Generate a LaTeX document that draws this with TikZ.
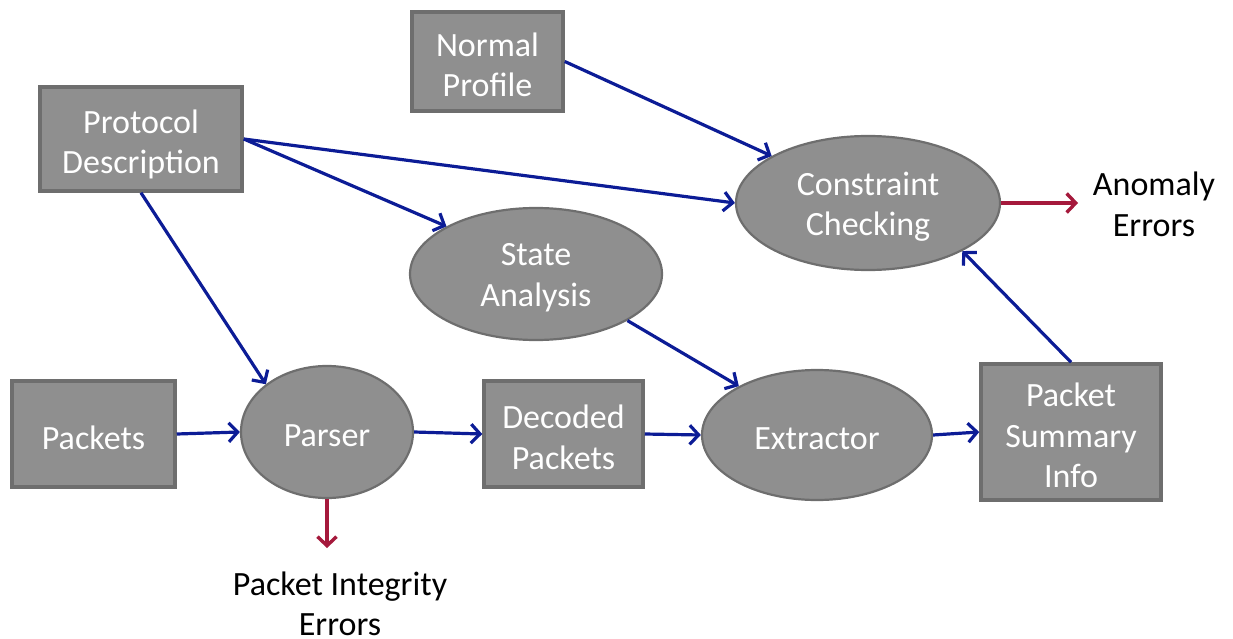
\documentclass[tikz,border=0pt]{standalone}
\usepackage{fontspec}
\setmainfont{Carlito}
\usetikzlibrary{shapes.geometric,arrows.meta}
\definecolor{boxfill}{RGB}{143,143,143}
\definecolor{boxline}{RGB}{110,110,110}
\definecolor{arrblue}{RGB}{12,28,150}
\definecolor{arrred}{RGB}{165,25,60}
\begin{document}
\begin{tikzpicture}[x=1pt,y=-1pt,
  every node/.style={font=\fontsize{34}{40.5}\selectfont, align=center, inner sep=0pt},
  rectbox/.style={rectangle, draw=boxline, line width=3.5pt, fill=boxfill},
  ellbox/.style={ellipse, draw=boxline, line width=2.2pt, fill=boxfill},
  lbl/.style={text=white, yshift=-3.5pt},
  plain/.style={text=black},
  barr/.style={draw=arrblue, line width=3.2pt, -{Straight Barb[length=9pt,width=19pt,line width=3.2pt]}},
  rarr/.style={draw=arrred, line width=3.4pt, -{Straight Barb[length=9pt,width=19pt,line width=3.4pt]}}
]
\useasboundingbox (0,0) rectangle (1233,639);
\node[rectbox, minimum width=151pt, minimum height=99pt, label={[lbl]center:{Normal\\Profile}}] (norm) at (487.5,61.5) {};
\node[rectbox, minimum width=202pt, minimum height=104pt, label={[lbl, yshift=-2pt]center:{Protocol\\Description}}] (prot) at (141,139) {};
\node[rectbox, minimum width=163pt, minimum height=106pt, label={[lbl]center:{Packets}}] (pack) at (93.5,434) {};
\node[rectbox, minimum width=159pt, minimum height=106pt, label={[lbl]center:{Decoded\\Packets}}] (dec) at (563.5,434) {};
\node[rectbox, minimum width=180pt, minimum height=136pt, label={[lbl]center:{Packet\\Summary\\Info}}] (summ) at (1071,432) {};
\node[ellbox, minimum width=172pt, minimum height=132pt, label={[lbl]center:{Parser}}] (pars) at (327,432) {};
\node[ellbox, minimum width=230pt, minimum height=130pt, label={[lbl]center:{Extractor}}] (extr) at (817,435) {};
\node[ellbox, minimum width=252pt, minimum height=132pt, label={[lbl]center:{State\\Analysis}}] (state) at (536,274) {};
\node[ellbox, minimum width=264pt, minimum height=134pt, label={[lbl]center:{Constraint\\Checking}}] (cons) at (868,203) {};
\node[plain] (anom) at (1154,204.5) {Anomaly\\Errors};
\node[plain] (integ) at (340,604) {Packet Integrity\\Errors};
\coordinate (anomin) at (1078,203);
\coordinate (integin) at (327,548);
\draw[barr] (norm.east) -- (cons.154);
\draw[barr] (prot.east) -- (cons.west);
\draw[barr] (prot.east) -- (state.152);
\draw[barr] (prot.south) -- (pars.142);
\draw[barr] (pack.east) -- (pars.west);
\draw[barr] (pars.east) -- (dec.west);
\draw[barr] (dec.east) -- (extr.west);
\draw[barr] (state.-27) -- (extr.148);
\draw[barr] (extr.east) -- (summ.west);
\draw[barr] (summ.north) -- (cons.-27);
\draw[rarr] (cons.east) -- (anomin);
\draw[rarr] (pars.south) -- (integin);
\end{tikzpicture}
\end{document}
